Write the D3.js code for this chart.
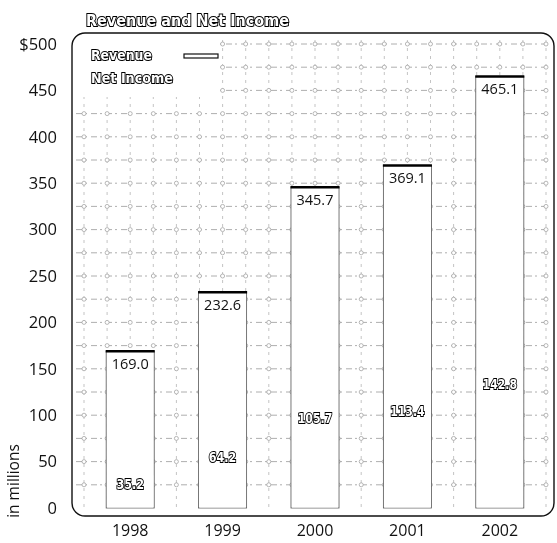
<!DOCTYPE html>
<html>
<head>
<meta charset="utf-8">
<script src="https://cdn.jsdelivr.net/npm/d3@7"></script>
<style>
  html, body { margin: 0; padding: 0; background: #fff; }
  svg { display: block; filter: grayscale(100%); }
  .outlined { paint-order: stroke; }
</style>
</head>
<body>
<svg id="chart" width="557" height="543"></svg>
<script>
// ---- data ----
const years = ["1998", "1999", "2000", "2001", "2002"];
const revenue = [169.0, 232.6, 345.7, 369.1, 465.1];
const netIncome = [35.2, 64.2, 105.7, 113.4, 142.8];
const yTickValues = [0, 50, 100, 150, 200, 250, 300, 350, 400, 450, 500];
const yTickLabels = ["0", "50", "100", "150", "200", "250", "300", "350", "400", "450", "$500"];
const seriesNames = ["Revenue", "Net Income"];
const titleText = "Revenue and Net Income";
const yAxisTitle = "in millions";

// ---- layout ----
const svg = d3.select("#chart");
const frame = { x0: 72, x1: 554, y0: 33, y1: 516, r: 13 };

const y = d3.scaleLinear().domain([0, 500]).range([508, 44]);
const x = d3.scaleBand().domain(years).range([84, 546]).paddingInner(0.48).paddingOuter(0.24);

// frame background
svg.append("rect")
  .attr("x", frame.x0).attr("y", frame.y0)
  .attr("width", frame.x1 - frame.x0).attr("height", frame.y1 - frame.y0)
  .attr("rx", frame.r).attr("ry", frame.r)
  .attr("fill", "#fff");

// background grid pattern (dashed lines with small rings at crossings)
const gridG = svg.append("g");
const hVals = d3.range(0, 501, 25);
const vXs = d3.range(84, frame.x1 - 3, 23.1);
gridG.selectAll("line.h").data(hVals.filter(v => v > 0)).join("line")
  .attr("x1", frame.x0 + 4).attr("x2", frame.x1 - 4)
  .attr("y1", d => y(d)).attr("y2", d => y(d))
  .attr("stroke", "#999").attr("stroke-width", 0.8)
  .attr("stroke-dasharray", "6,3,2,4");
gridG.selectAll("line.v").data(vXs).join("line")
  .attr("x1", d => d).attr("x2", d => d)
  .attr("y1", y(500) - 4).attr("y2", y(0) + 4)
  .attr("stroke", "#aaa").attr("stroke-width", 0.7)
  .attr("stroke-dasharray", "3,5");
const crossings = [];
hVals.filter(v => v > 0).forEach(v => vXs.forEach(px => crossings.push([px, y(v)])));
gridG.selectAll("circle").data(crossings).join("circle")
  .attr("cx", d => d[0]).attr("cy", d => d[1]).attr("r", 2)
  .attr("fill", "#fff").attr("stroke", "#999").attr("stroke-width", 0.7);

// legend backing
svg.append("rect").attr("x", 76).attr("y", 37).attr("width", 142).attr("height", 60).attr("fill", "#fff");

// revenue bars
const bars = svg.append("g");
const revData = years.map((yr, i) => ({ yr, v: revenue[i], n: netIncome[i] }));
bars.selectAll("rect.rev").data(revData).join("rect")
  .attr("x", d => x(d.yr)).attr("y", d => y(d.v))
  .attr("width", x.bandwidth()).attr("height", d => y(0) - y(d.v))
  .attr("fill", "#fff").attr("stroke", "#555").attr("stroke-width", 0.8);
bars.selectAll("line.top").data(revData).join("line")
  .attr("x1", d => x(d.yr) - 0.5).attr("x2", d => x(d.yr) + x.bandwidth() + 0.5)
  .attr("y1", d => y(d.v)).attr("y2", d => y(d.v))
  .attr("stroke", "#000").attr("stroke-width", 2.5);
// net income bars (white, inside revenue bars)
bars.selectAll("rect.ni").data(revData).join("rect")
  .attr("x", d => x(d.yr) + 1).attr("y", d => y(d.n))
  .attr("width", x.bandwidth() - 2).attr("height", d => y(0) - y(d.n) - 0.5)
  .attr("fill", "#fff");

// revenue labels
bars.selectAll("text.rev").data(revData).join("text")
  .attr("x", d => x(d.yr) + x.bandwidth() / 2).attr("y", d => y(d.v) + 18)
  .attr("text-anchor", "middle")
  .attr("font-family", "'Open Sans', sans-serif").attr("font-size", 14.5)
  .attr("fill", "#111")
  .text(d => d.v.toFixed(1));

// net income labels (outlined)
bars.selectAll("text.ni").data(revData).join("text")
  .attr("class", "outlined")
  .attr("x", d => x(d.yr) + x.bandwidth() / 2).attr("y", d => y(d.n) + 13.5)
  .attr("text-anchor", "middle")
  .attr("font-family", "'DejaVu Sans', sans-serif").attr("font-weight", "bold").attr("font-size", 14)
  .attr("textLength", d => d.n.toFixed(1).length * 6.9).attr("lengthAdjust", "spacingAndGlyphs")
  .attr("fill", "#fff").attr("stroke", "#000").attr("stroke-width", 2)
  .text(d => d.n.toFixed(1));

// frame outline
svg.append("rect")
  .attr("x", frame.x0).attr("y", frame.y0)
  .attr("width", frame.x1 - frame.x0).attr("height", frame.y1 - frame.y0)
  .attr("rx", frame.r).attr("ry", frame.r)
  .attr("fill", "none").attr("stroke", "#111").attr("stroke-width", 1.4);

// legend
const legend = svg.append("g");
const legendLen = [61, 82];
legend.selectAll("text").data(seriesNames).join("text")
  .attr("class", "outlined")
  .attr("x", 91).attr("y", (d, i) => 60 + i * 23)
  .attr("font-family", "'DejaVu Sans', sans-serif").attr("font-weight", "bold").attr("font-size", 13.5)
  .attr("textLength", (d, i) => legendLen[i]).attr("lengthAdjust", "spacingAndGlyphs")
  .attr("fill", "#fff").attr("stroke", "#000").attr("stroke-width", 1.9)
  .text(d => d);
legend.append("rect").attr("x", 184).attr("y", 54).attr("width", 34).attr("height", 4)
  .attr("fill", "#fff").attr("stroke", "#111").attr("stroke-width", 1.2);

// title
svg.append("text")
  .attr("class", "outlined")
  .attr("x", 86).attr("y", 26)
  .attr("font-family", "'DejaVu Sans', sans-serif").attr("font-weight", "bold").attr("font-size", 16)
  .attr("textLength", 203).attr("lengthAdjust", "spacingAndGlyphs")
  .attr("fill", "#fff").attr("stroke", "#000").attr("stroke-width", 2.1)
  .text(titleText);

// y axis
const yAxis = d3.axisLeft(y).tickValues(yTickValues).tickSize(0).tickPadding(3)
  .tickFormat((d, i) => yTickLabels[i]);
const gy = svg.append("g").attr("transform", "translate(60,0)").call(yAxis);
gy.select(".domain").remove();
gy.selectAll("text").attr("font-family", "'Open Sans', sans-serif").attr("font-size", 16.5).attr("fill", "#111");

// x axis
const xAxis = d3.axisBottom(x).tickSize(0).tickPadding(5);
const gx = svg.append("g").attr("transform", "translate(0,520)").call(xAxis);
gx.select(".domain").remove();
gx.selectAll("text").attr("font-family", "'Open Sans', sans-serif").attr("font-size", 16).attr("fill", "#111");

// y axis title
svg.append("text")
  .attr("transform", "translate(19,481) rotate(-90)")
  .attr("text-anchor", "middle")
  .attr("font-family", "'Open Sans', sans-serif").attr("font-size", 15.5).attr("fill", "#111")
  .text(yAxisTitle);
</script>
</body>
</html>
